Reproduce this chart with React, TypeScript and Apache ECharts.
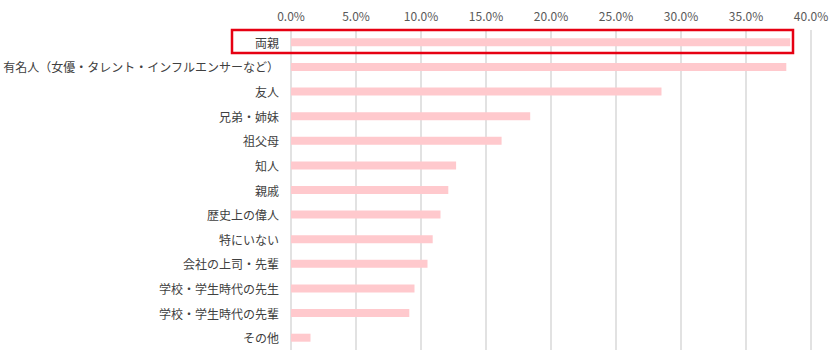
import React, { useEffect, useRef } from "react";
import * as echarts from "echarts";

const categories = [
  "両親",
  "有名人（女優・タレント・インフルエンサーなど）",
  "友人",
  "兄弟・姉妹",
  "祖父母",
  "知人",
  "親戚",
  "歴史上の偉人",
  "特にいない",
  "会社の上司・先輩",
  "学校・学生時代の先生",
  "学校・学生時代の先輩",
  "その他",
];
const values = [38.4, 38.1, 28.5, 18.4, 16.2, 12.7, 12.1, 11.5, 10.9, 10.5, 9.5, 9.1, 1.5];
const axisMin = 0;
const axisMax = 40;
const axisStep = 5;

export default function App() {
  const ref = useRef<HTMLDivElement>(null);
  useEffect(() => {
    if (!ref.current) return;
    const chart = echarts.init(ref.current, undefined, { renderer: "svg" });
    chart.setOption({
      animation: false,
      grid: { left: 291, right: 29, top: 30, bottom: 8, containLabel: false },
      xAxis: {
        type: "value",
        position: "top",
        min: axisMin,
        max: axisMax,
        interval: axisStep,
        axisLine: { show: false },
        axisTick: { show: false },
        axisLabel: {
          formatter: (v: number) => v.toFixed(1) + "%",
          color: "#595959",
          fontSize: 12,
          fontFamily: "Noto Sans CJK JP",
          margin: 9,
        },
        splitLine: { show: true, lineStyle: { color: "#d9d9d9", width: 1.5 } },
      },
      yAxis: {
        type: "category",
        data: categories,
        inverse: true,
        axisLine: { show: false },
        axisTick: { show: false },
        axisLabel: {
          color: "#404040",
          fontSize: 12,
          fontFamily: "Noto Sans CJK JP",
          margin: 12,
        },
      },
      series: [
        {
          type: "bar",
          data: values,
          barWidth: 8,
          itemStyle: { color: "#ffc9cd" },
        },
      ],
      graphic: [
        {
          type: "rect",
          shape: { x: 232, y: 30, width: 561, height: 23 },
          style: { fill: "none", stroke: "#e60012", lineWidth: 2.5 },
          z: 100,
        },
      ],
    });
    return () => chart.dispose();
  }, []);
  return <div ref={ref} style={{ width: 840, height: 358, position: "absolute", left: 0, top: 0 }} />;
}
